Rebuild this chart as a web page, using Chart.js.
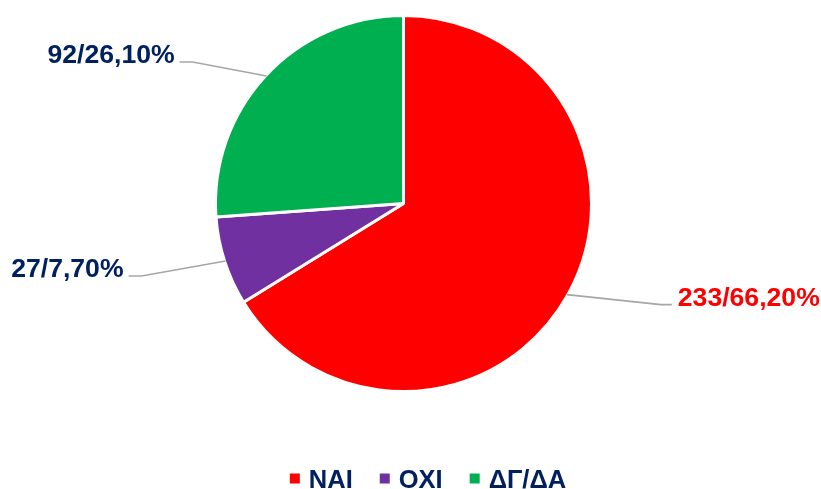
<!DOCTYPE html>
<html>
<head>
<meta charset="utf-8">
<script src="https://cdn.jsdelivr.net/npm/chart.js@4"></script>
<style>
  html, body { margin: 0; padding: 0; background: #ffffff; }
  #wrap { width: 821px; height: 489px; }
</style>
</head>
<body>
<div id="wrap"><canvas id="c" width="821" height="489"></canvas></div>
<script>
// ---- data ----
const categories = ['ΝΑΙ', 'ΟΧΙ', 'ΔΓ/ΔΑ'];
const counts = [233, 27, 92];
const percents = [66.2, 7.7, 26.1];

// ---- styles ----
const sliceColors = ['#FF0000', '#7030A0', '#00B050'];
const labelColors = ['#FF0000', '#002060', '#002060'];
const navy = '#002060';
const fontFamily = '"Liberation Sans", Arial, Helvetica, sans-serif';
const labelOffsets = [[94, 10], [-84, 15], [-74, -14]];

function fmtLabel(i) {
  return counts[i] + '/' + percents[i].toFixed(2).replace('.', ',') + '%';
}

const dataLabelsPlugin = {
  id: 'leaderLabels',
  afterDatasetsDraw(chart) {
    const ctx = chart.ctx;
    const meta = chart.getDatasetMeta(0);
    ctx.save();
    ctx.font = 'bold 26.6px ' + fontFamily;
    meta.data.forEach((arc, i) => {
      const p = arc.getProps(['x', 'y', 'startAngle', 'endAngle', 'outerRadius'], true);
      const mid = (p.startAngle + p.endAngle) / 2;
      const r = p.outerRadius - 1;
      const ex = p.x + Math.cos(mid) * r;
      const ey = p.y + Math.sin(mid) * r;
      const off = labelOffsets[i];
      const bx = ex + off[0];
      const by = ey + off[1];
      const right = off[0] > 0;
      const tx = bx + (right ? 11 : -13);
      ctx.strokeStyle = '#A6A6A6';
      ctx.lineWidth = 1.6;
      ctx.beginPath();
      ctx.moveTo(ex, ey);
      ctx.lineTo(bx, by);
      ctx.lineTo(tx, by);
      ctx.stroke();
      ctx.fillStyle = labelColors[i];
      ctx.textAlign = right ? 'left' : 'right';
      ctx.textBaseline = 'alphabetic';
      ctx.fillText(fmtLabel(i), tx + (right ? 6 : -5), by + 1);
    });
    ctx.restore();
  }
};

const legendPlugin = {
  id: 'bottomLegend',
  afterDraw(chart) {
    const ctx = chart.ctx;
    ctx.save();
    ctx.font = 'bold 25.5px ' + fontFamily;
    const box = 10, boxGap = 9, itemGap = 27;
    const widths = categories.map(t => box + boxGap + ctx.measureText(t).width);
    const total = widths.reduce((a, b) => a + b, 0) + itemGap * (categories.length - 1);
    let x = 428 - total / 2;
    const baseline = 487.5;
    categories.forEach((t, i) => {
      ctx.fillStyle = sliceColors[i];
      ctx.fillRect(x, 473.5, box, box);
      ctx.fillStyle = navy;
      ctx.textAlign = 'left';
      ctx.textBaseline = 'alphabetic';
      ctx.fillText(t, x + box + boxGap, baseline);
      x += widths[i] + itemGap;
    });
    ctx.restore();
  }
};

new Chart(document.getElementById('c'), {
  type: 'pie',
  data: {
    labels: categories,
    datasets: [{
      data: counts,
      backgroundColor: sliceColors,
      borderColor: '#FFFFFF',
      borderWidth: 3
    }]
  },
  options: {
    responsive: false,
    animation: false,
    layout: { padding: { top: 14, bottom: 96, left: 214, right: 228 } },
    plugins: {
      legend: { display: false },
      tooltip: { enabled: false },
      title: { display: false }
    }
  },
  plugins: [dataLabelsPlugin, legendPlugin]
});
</script>
</body>
</html>
